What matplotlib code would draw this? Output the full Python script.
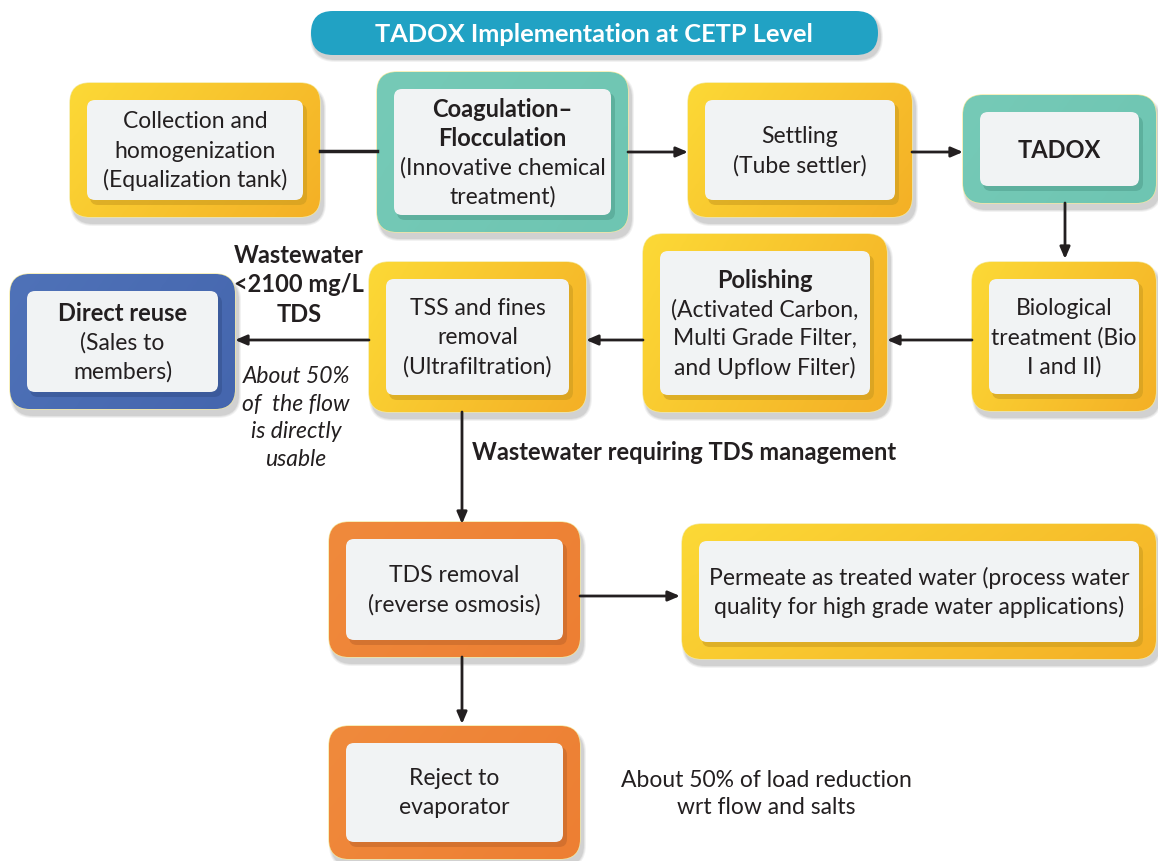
"""TADOX implementation at CETP level - process flow chart."""
import numpy as np
import matplotlib
matplotlib.use('Agg')
import matplotlib.pyplot as plt
from matplotlib.patches import FancyBboxPatch
from matplotlib.colors import LinearSegmentedColormap

W, H = 1158, 862
FONT = 'Lato'
INK = '#231f20'

title = "TADOX Implementation at CETP Level"

# box texts (bold lines first, then regular lines)
node_lines = [
    ["Collection and", "homogenization", "(Equalization tank)"],
    ["Coagulation\u2013", "Flocculation", "(Innovative chemical", "treatment)"],
    ["Settling", "(Tube settler)"],
    ["TADOX"],
    ["Biological", "treatment (Bio", "I and II)"],
    ["Polishing", "(Activated Carbon,", "Multi Grade Filter,", "and Upflow Filter)"],
    ["TSS and fines", "removal", "(Ultrafiltration)"],
    ["Direct reuse", "(Sales to", "members)"],
    ["TDS removal", "(reverse osmosis)"],
    ["Permeate as treated water (process water", "quality for high grade water applications)"],
    ["Reject to", "evaporator"],
]
node_nbold = [0, 2, 0, 1, 0, 1, 0, 1, 0, 0, 0]
node_kind = ['yellow', 'teal', 'yellow', 'teal', 'yellow', 'yellow', 'yellow',
             'blue', 'orange', 'yellow', 'orange']

# connections: (from node, to node, arrow head)
links = [(0, 1, False), (1, 2, True), (2, 3, True), (3, 4, True), (4, 5, True),
         (5, 6, True), (6, 7, True), (6, 8, True), (8, 9, True), (8, 10, True)]

side_notes = ["Wastewater\n<2100 mg/L\nTDS",
              "About 50%\nof  the flow\nis directly\nusable",
              "Wastewater requiring TDS management",
              "About 50% of load reduction\nwrt flow and salts"]

# ---- layout (pixels, y downwards) ----
box_xy = [(70, 84, 320, 218), (377, 73, 628, 233), (688, 84, 912, 218),
          (963, 96, 1156, 204), (972, 263, 1156, 412), (643, 235, 887, 413),
          (369, 263, 586, 413), (10, 275, 235, 410), (329, 523, 580, 658),
          (682, 525, 1156, 660), (329, 727, 580, 860)]
link_xy = [(320, 152, 377, 152), (628, 153, 688, 153), (912, 153, 963, 153),
           (1065, 204, 1065, 260), (972, 341, 887, 341), (643, 341, 586, 341),
           (369, 341, 235, 341), (462, 413, 462, 525), (580, 597, 680, 597),
           (462, 658, 462, 725)]
colors = {'yellow': ('#fcd936', '#f4b026'), 'teal': ('#76cab7', '#6ec5b2'),
          'blue': ('#4f72b8', '#4566ae'), 'orange': ('#f08a3c', '#ed7f33')}
inner_shadow = {'yellow': '#c99a1e', 'teal': '#4f9e8c', 'blue': '#34508c', 'orange': '#c0652a'}
FS, FSB = 16.5, 17

fig = plt.figure(figsize=(W / 100, H / 100), dpi=100)
ax = fig.add_axes([0, 0, 1, 1])
ax.set_xlim(0, W); ax.set_ylim(H, 0); ax.axis('off')


def rbox(x0, y0, x1, y1, r, **kw):
    p = FancyBboxPatch((x0, y0), x1 - x0, y1 - y0,
                       boxstyle=f"round,pad=0,rounding_size={r}", **kw)
    ax.add_patch(p)
    return p


def shadow(x0, y0, x1, y1, r, dx, dy, z):
    for k, a in enumerate([0.05, 0.06, 0.08]):
        g = 3 - k
        rbox(x0 + dx - g, y0 + dy - g, x1 + dx + g, y1 + dy + g, r + g,
             fc='k', ec='none', alpha=a, zorder=z)


def gradient_fill(patch, c0, c1, x0, y0, x1, y1, z):
    cm = LinearSegmentedColormap.from_list('g', [c0, c1])
    xx, yy = np.meshgrid(np.linspace(0, 1, 64), np.linspace(0, 1, 64))
    im = ax.imshow(0.7 * xx + 0.3 * yy, cmap=cm, extent=(x0, x1, y1, y0),
                   origin='upper', zorder=z, interpolation='bilinear', aspect='auto')
    im.set_clip_path(patch)


# title pill
shadow(311, 12, 878, 56, 22, 2, 4, 1)
rbox(311, 12, 878, 56, 22, fc='#21a2c4', ec='none', zorder=2)
ax.text(594, 34, title, ha='center', va='center', color='white',
        fontsize=18.3, fontweight='bold', family=FONT, zorder=3)

# boxes
for lines, nb, kind, (x0, y0, x1, y1) in zip(node_lines, node_nbold, node_kind, box_xy):
    c0, c1 = colors[kind]
    shadow(x0, y0, x1, y1, 20, 3, 6, 1)
    outer = rbox(x0, y0, x1, y1, 20, fc=c1, ec='#f3e9a0', lw=1.0, zorder=2)
    gradient_fill(outer, c0, c1, x0, y0, x1, y1, 2.1)
    ix0, iy0, ix1, iy1 = x0 + 17, y0 + 17, x1 - 17, y1 - 17
    rbox(ix0 + 3, iy0 + 4, ix1 + 4, iy1 + 5, 8, fc=inner_shadow[kind], ec='none',
         alpha=0.55, zorder=3)
    rbox(ix0, iy0, ix1, iy1, 8, fc='#f1f3f4', ec='none', zorder=4)
    cx, cy = (x0 + x1) / 2, (y0 + y1) / 2
    pitch = 29
    n = len(lines)
    for i, t in enumerate(lines):
        y = cy + (i - (n - 1) / 2) * pitch
        bold = i < nb
        ax.text(cx, y, t, ha='center', va='center', color=INK, family=FONT,
                fontsize=FSB if bold else FS,
                fontweight='bold' if bold else 'normal', zorder=5)

# connectors
for (a, b, head), (x0, y0, x1, y1) in zip(links, link_xy):
    if head:
        ax.annotate('', xy=(x1, y1), xytext=(x0, y0), zorder=6,
                    arrowprops=dict(arrowstyle='-|>,head_length=0.7,head_width=0.3',
                                    color=INK, lw=2, shrinkA=0, shrinkB=0))
    else:
        ax.plot([x0, x1], [y0, y1], color=INK, lw=2.5, zorder=6)

# side notes
ax.text(299, 285, side_notes[0], ha='center', va='center', color=INK, family=FONT,
        fontsize=FSB, fontweight='bold', linespacing=1.36)
ax.text(296, 418, side_notes[1], ha='center', va='center', color=INK, family=FONT,
        fontsize=FS, style='italic', linespacing=1.4)
ax.text(472, 453, side_notes[2], ha='left', va='center', color=INK, family=FONT,
        fontsize=FSB, fontweight='bold')
ax.text(766, 794, side_notes[3], ha='center', va='center', color=INK, family=FONT,
        fontsize=FS, linespacing=1.4)

fig.savefig('out.png', dpi=100, facecolor='white')
